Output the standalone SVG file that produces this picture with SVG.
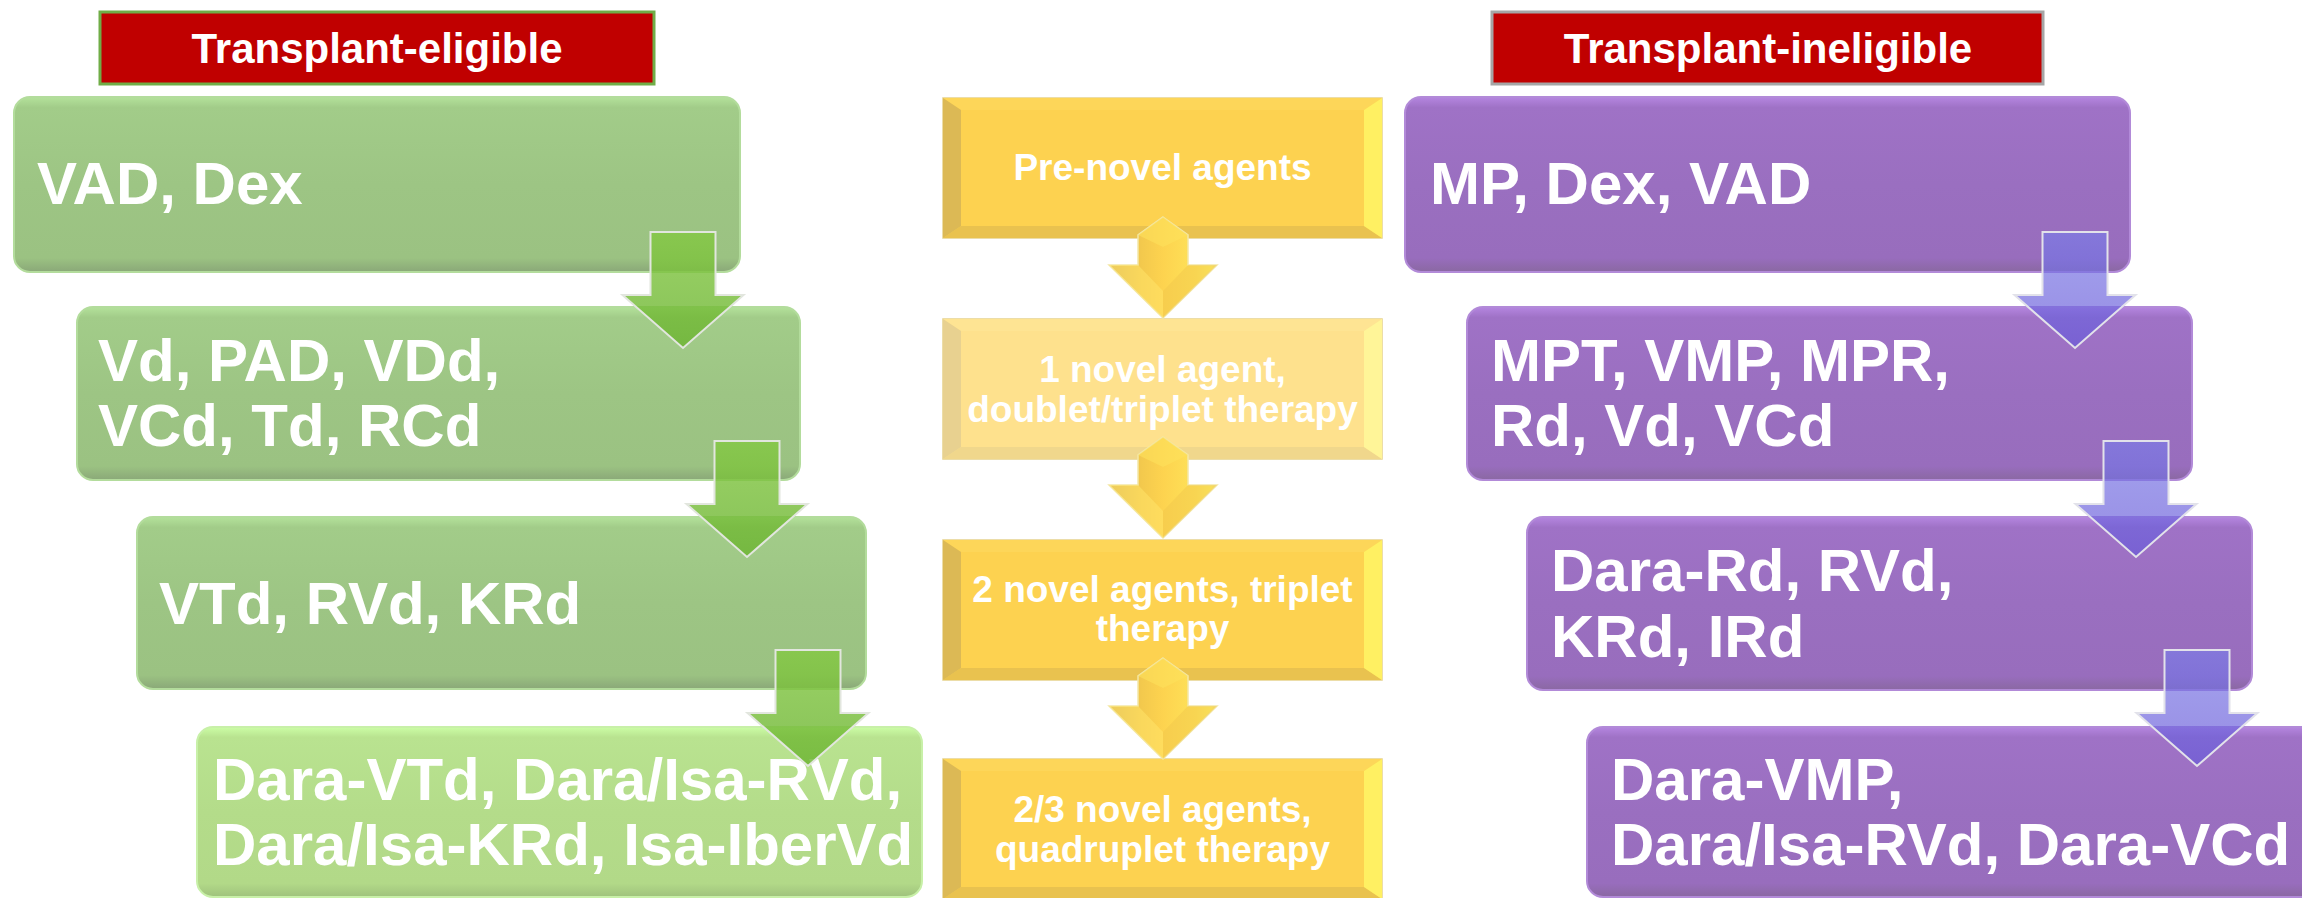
<svg xmlns="http://www.w3.org/2000/svg" xmlns:xlink="http://www.w3.org/1999/xlink" width="2302" height="898" viewBox="0 0 2302 898">
<style>
.hdr{font-family:"Liberation Sans",Arial,sans-serif;font-weight:bold;font-size:42px;fill:#ffffff;text-anchor:middle}
.big{font-family:"Liberation Sans",Arial,sans-serif;font-weight:bold;font-size:60px;fill:#ffffff}
.mid{font-family:"Liberation Sans",Arial,sans-serif;font-weight:bold;font-size:37px;fill:#ffffff;text-anchor:middle}
.gbox{fill:url(#gGrad);stroke:#b3dc9c;stroke-width:2}
.gbox4{fill:url(#gGrad4);stroke:#c8f0a8;stroke-width:2}
.pbox{fill:url(#pGrad);stroke:#b28ad8;stroke-width:2}
.garrow{fill:url(#gaGrad);fill-opacity:0.82;stroke:#e2e6de;stroke-width:2}
.parrow{fill:url(#paGrad);fill-opacity:0.7;stroke:#e2e2ea;stroke-width:2}
</style>
<defs>
<linearGradient id="gGrad" x1="0" y1="0" x2="0" y2="1">
<stop offset="0" stop-color="#b4e29b"/><stop offset="0.06" stop-color="#a2cc89"/><stop offset="0.5" stop-color="#9dc584"/><stop offset="0.92" stop-color="#9bc282"/><stop offset="1" stop-color="#8aa878"/>
</linearGradient>
<linearGradient id="gGrad4" x1="0" y1="0" x2="0" y2="1">
<stop offset="0" stop-color="#ccfea6"/><stop offset="0.06" stop-color="#b9e390"/><stop offset="0.5" stop-color="#b4dc8a"/><stop offset="0.92" stop-color="#b2d988"/><stop offset="1" stop-color="#9fc27c"/>
</linearGradient>
<linearGradient id="pGrad" x1="0" y1="0" x2="0" y2="1">
<stop offset="0" stop-color="#b586e0"/><stop offset="0.06" stop-color="#9f72c6"/><stop offset="0.5" stop-color="#9a6fc0"/><stop offset="0.92" stop-color="#986dbd"/><stop offset="1" stop-color="#8a68a2"/>
</linearGradient>
<linearGradient id="gaGrad" x1="0" y1="0" x2="0" y2="1">
<stop offset="0" stop-color="#84c843"/><stop offset="1" stop-color="#6cb432"/>
</linearGradient>
<linearGradient id="paGrad" x1="0" y1="0" x2="0" y2="1">
<stop offset="0" stop-color="#7c7ce6"/><stop offset="1" stop-color="#6a5ad8"/>
</linearGradient>
<linearGradient id="yArrowGrad" x1="0" y1="0" x2="1" y2="0">
<stop offset="0" stop-color="#d6ae4c"/><stop offset="0.3" stop-color="#f3c94d"/><stop offset="0.5" stop-color="#fdd34f"/><stop offset="0.8" stop-color="#fee258"/><stop offset="0.95" stop-color="#fff466"/><stop offset="1" stop-color="#eedb6a"/>
</linearGradient>
<g id="bevel">
<rect x="0" y="0" width="439" height="140" fill="#fdd250" stroke="#e6d28c" stroke-width="1.5"/>
<polygon points="0,0 439,0 421,12 18,12" fill="#fdd659"/>
<polygon points="0,140 18,128 421,128 439,140" fill="#e9c24f"/>
<polygon points="0,0 18,12 18,128 0,140" fill="#dcb955"/>
<polygon points="439,0 421,12 421,128 439,140" fill="#fff062"/>
</g>
<g id="yarrow">
<polygon points="0,0 25,18 25,48 54,48 0,101 -54,48 -25,48 -25,18" fill="url(#yArrowGrad)" stroke="#f3e7a6" stroke-width="1.5"/>
<polygon points="-54,48 -25,48 0,74 0,101" fill="#ffe46a" fill-opacity="0.55"/>
<polygon points="54,48 25,48 0,74 0,101" fill="#f2c84c" fill-opacity="0.5"/>
<polygon points="0,0 25,18 0,30 -25,18" fill="#fde15c" fill-opacity="0.6"/>
</g>
<polygon id="darrow" points="-32.5,0 32.5,0 32.5,63 60.5,63 0,116 -60.5,63 -32.5,63"/>
</defs>

<rect x="0" y="0" width="2302" height="898" fill="#ffffff"/>

<g id="header-eligible">
<rect x="100" y="12" width="554" height="72" fill="#c00000" stroke="#70ad47" stroke-width="3"/>
<text class="hdr" x="377" y="63">Transplant-eligible</text>
</g>
<g id="header-ineligible">
<rect x="1492" y="12" width="551" height="72" fill="#c00000" stroke="#a6a6a6" stroke-width="3"/>
<text class="hdr" x="1768" y="63">Transplant-ineligible</text>
</g>

<g id="te-1">
<rect class="gbox" x="14" y="97" width="726" height="175" rx="16"/>
<text class="big" x="37" y="204">VAD, Dex</text>
</g>
<g id="te-2">
<rect class="gbox" x="77" y="307" width="723" height="173" rx="16"/>
<text class="big" x="98" y="381">Vd, PAD, VDd,</text>
<text class="big" x="98" y="446">VCd, Td, RCd</text>
</g>
<g id="te-3">
<rect class="gbox" x="137" y="517" width="729" height="172" rx="16"/>
<text class="big" x="159" y="624">VTd, RVd, KRd</text>
</g>
<g id="te-4">
<rect class="gbox4" x="197" y="727" width="725" height="170" rx="16"/>
<text class="big" x="213" y="800">Dara-VTd, Dara/Isa-RVd,</text>
<text class="big" x="213" y="865">Dara/Isa-KRd, Isa-IberVd</text>
</g>

<g id="era-1">
<use xlink:href="#bevel" href="#bevel" transform="translate(943,98)"/>
<text class="mid" x="1162.5" y="180">Pre-novel agents</text>
</g>
<g id="era-2">
<use xlink:href="#bevel" href="#bevel" transform="translate(943,319)"/>
<rect x="943" y="319" width="439" height="140" fill="#ffffff" fill-opacity="0.35"/>
<text class="mid" x="1162.5" y="382">1 novel agent,</text>
<text class="mid" x="1162.5" y="422">doublet/triplet therapy</text>
</g>
<g id="era-3">
<use xlink:href="#bevel" href="#bevel" transform="translate(943,540)"/>
<text class="mid" x="1162.5" y="602">2 novel agents, triplet</text>
<text class="mid" x="1162.5" y="641">therapy</text>
</g>
<g id="era-4">
<use xlink:href="#bevel" href="#bevel" transform="translate(943,759)"/>
<text class="mid" x="1162.5" y="822">2/3 novel agents,</text>
<text class="mid" x="1162.5" y="862">quadruplet therapy</text>
</g>

<g id="ti-1">
<rect class="pbox" x="1405" y="97" width="725" height="175" rx="16"/>
<text class="big" x="1430" y="204">MP, Dex, VAD</text>
</g>
<g id="ti-2">
<rect class="pbox" x="1467" y="307" width="725" height="173" rx="16"/>
<text class="big" x="1491" y="381">MPT, VMP, MPR,</text>
<text class="big" x="1491" y="446">Rd, Vd, VCd</text>
</g>
<g id="ti-3">
<rect class="pbox" x="1527" y="517" width="725" height="173" rx="16"/>
<text class="big" x="1551" y="591">Dara-Rd, RVd,</text>
<text class="big" x="1551" y="657">KRd, IRd</text>
</g>
<g id="ti-4">
<rect class="pbox" x="1587" y="727" width="740" height="170" rx="16"/>
<text class="big" x="1611" y="800">Dara-VMP,</text>
<text class="big" x="1611" y="865">Dara/Isa-RVd, Dara-VCd</text>
</g>

<g id="connectors">
<use class="garrow" xlink:href="#darrow" href="#darrow" transform="translate(683,232)"/>
<use class="garrow" xlink:href="#darrow" href="#darrow" transform="translate(747,441)"/>
<use class="garrow" xlink:href="#darrow" href="#darrow" transform="translate(808,650)"/>
<use xlink:href="#yarrow" href="#yarrow" transform="translate(1163,217)"/>
<use xlink:href="#yarrow" href="#yarrow" transform="translate(1163,437)"/>
<use xlink:href="#yarrow" href="#yarrow" transform="translate(1163,658)"/>
<use class="parrow" xlink:href="#darrow" href="#darrow" transform="translate(2075,232)"/>
<use class="parrow" xlink:href="#darrow" href="#darrow" transform="translate(2136,441)"/>
<use class="parrow" xlink:href="#darrow" href="#darrow" transform="translate(2197,650)"/>
</g>
</svg>
